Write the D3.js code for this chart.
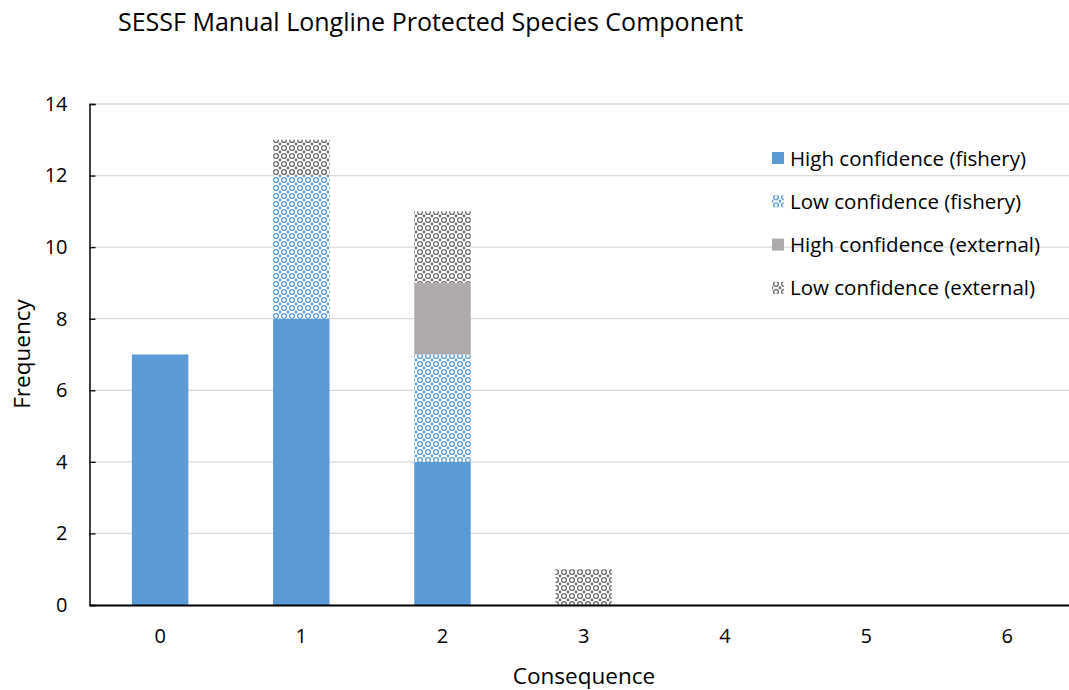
<!DOCTYPE html>
<html lang="en">
<head>
    <meta charset="UTF-8">
    <title>SESSF Manual Longline Protected Species Component</title>
    <script src="https://d3js.org/d3.v7.min.js"></script>
    <style>
        body { margin: 0; background: #fff; }
        svg { display: block; font-family: "Open Sans", "Noto Sans", sans-serif; }
    </style>
</head>
<body>
    <svg id="chart" width="1069" height="690"></svg>
    <script>
        // Chart data
        const categories = ['0', '1', '2', '3', '4', '5', '6'];
        const seriesNames = ['High confidence (fishery)', 'Low confidence (fishery)',
                             'High confidence (external)', 'Low confidence (external)'];
        const highFishery = [7, 8, 4, 0, 0, 0, 0];
        const lowFishery = [0, 4, 3, 0, 0, 0, 0];
        const highExternal = [0, 0, 2, 0, 0, 0, 0];
        const lowExternal = [0, 1, 2, 1, 0, 0, 0];
        const yTicks = [0, 2, 4, 6, 8, 10, 12, 14];

        const rows = categories.map((c, i) => ({
            cat: c,
            s0: highFishery[i], s1: lowFishery[i], s2: highExternal[i], s3: lowExternal[i]
        }));
        const keys = ['s0', 's1', 's2', 's3'];

        const svg = d3.select('#chart');

        // patterns for the "low confidence" series
        const defs = svg.append('defs');
        function makePattern(id, color) {
            const p = defs.append('pattern')
                .attr('id', id)
                .attr('patternUnits', 'userSpaceOnUse')
                .attr('width', 8).attr('height', 8);
            p.append('rect').attr('width', 8).attr('height', 8).attr('fill', '#fff');
            p.append('circle')
                .attr('cx', 4).attr('cy', 4).attr('r', 2.4)
                .attr('fill', 'none').attr('stroke', color).attr('stroke-width', 1.4);
            [[0, 0], [8, 0], [0, 8], [8, 8]].forEach(([x, y]) => {
                p.append('circle').attr('cx', x).attr('cy', y).attr('r', 1.4).attr('fill', color);
            });
        }
        makePattern('patBlue', '#5b9bd5');
        makePattern('patGrey', '#6f6b6b');

        const fills = ['#5b9bd5', 'url(#patBlue)', '#aeaaaa', 'url(#patGrey)'];

        const x0 = 89.5, plotTop = 104, plotBottom = 605;
        const step = 141.2;

        const x = d3.scaleBand()
            .domain(categories)
            .range([x0, x0 + step * categories.length])
            .paddingInner(0.6)
            .paddingOuter(0.3);

        const y = d3.scaleLinear()
            .domain([0, 14])
            .range([plotBottom, plotTop]);

        // gridlines
        svg.append('g')
            .selectAll('line')
            .data(yTicks.filter(t => t > 0))
            .enter().append('line')
            .attr('x1', x0).attr('x2', 1069)
            .attr('y1', d => y(d)).attr('y2', d => y(d))
            .attr('stroke', '#d9d9d9').attr('stroke-width', 1.3);

        // stacked bars
        const stacked = d3.stack().keys(keys)(rows);
        svg.append('g')
            .selectAll('g')
            .data(stacked)
            .enter().append('g')
            .attr('fill', (d, i) => fills[i])
            .selectAll('rect')
            .data(d => d.filter(v => v[1] > v[0]))
            .enter().append('rect')
            .attr('x', d => x(d.data.cat))
            .attr('width', x.bandwidth())
            .attr('y', d => y(d[1]))
            .attr('height', d => y(d[0]) - y(d[1]));

        // y axis
        const yAxis = d3.axisLeft(y).tickValues(yTicks).tickSize(-6).tickPadding(22);
        const yG = svg.append('g')
            .attr('transform', `translate(${x0},0)`)
            .call(yAxis);
        yG.select('.domain').attr('stroke', '#000').attr('stroke-width', 1.5);
        yG.selectAll('.tick line').attr('stroke', '#000').attr('stroke-width', 1.3);
        yG.selectAll('.tick text')
            .attr('font-size', '20px').attr('fill', '#000')
            .attr('font-family', '"Open Sans", sans-serif');

        // x axis
        const xAxis = d3.axisBottom(x).tickSize(0).tickPadding(24);
        const xG = svg.append('g')
            .attr('transform', `translate(0,${plotBottom})`)
            .call(xAxis);
        xG.select('.domain').attr('stroke', '#000').attr('stroke-width', 1.8);
        xG.selectAll('.tick text')
            .attr('font-size', '20px').attr('fill', '#000')
            .attr('font-family', '"Open Sans", sans-serif');

        // title
        svg.append('text')
            .attr('x', 118).attr('y', 31)
            .attr('font-size', '25px')
            .attr('fill', '#000')
            .text('SESSF Manual Longline Protected Species Component');

        // axis titles
        svg.append('text')
            .attr('x', 584).attr('y', 684)
            .attr('text-anchor', 'middle')
            .attr('font-size', '22.5px')
            .text('Consequence');

        svg.append('text')
            .attr('transform', 'translate(30,354) rotate(-90)')
            .attr('text-anchor', 'middle')
            .attr('font-size', '22.5px')
            .text('Frequency');

        // legend
        const legend = svg.append('g')
            .selectAll('g')
            .data(seriesNames)
            .enter().append('g')
            .attr('transform', (d, i) => `translate(772,${158 + i * 43.3})`);
        legend.append('rect')
            .attr('x', 0).attr('y', -6)
            .attr('width', 12).attr('height', 12)
            .attr('fill', (d, i) => fills[i]);
        legend.append('text')
            .attr('x', 18).attr('y', 7.5)
            .attr('font-size', '20.5px')
            .text(d => d);
    </script>
</body>
</html>
